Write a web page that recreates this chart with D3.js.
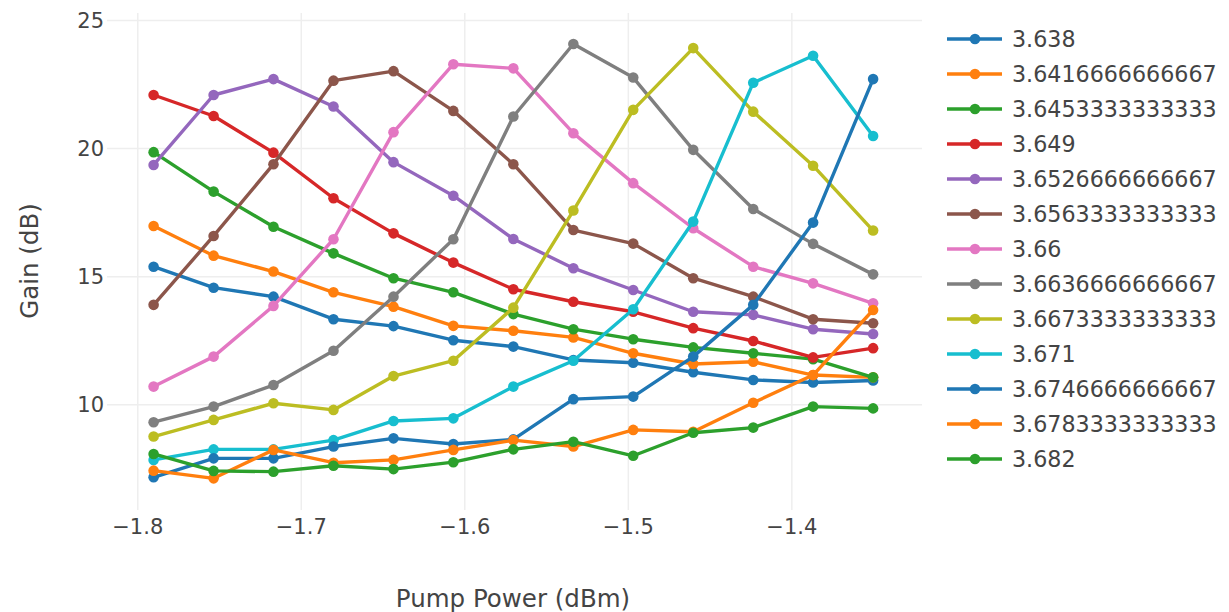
<!DOCTYPE html>
<html>
<head>
<meta charset="utf-8">
<script src="https://cdn.jsdelivr.net/npm/d3@7"></script>
<style>
  body { margin: 0; background: #fff; }
  svg { font-family: "DejaVu Sans", Verdana, sans-serif; }
  .grid line { stroke: #eee; stroke-width: 1.5; }
</style>
</head>
<body>
<div id="chart"></div>
<script>
// Data
const pumpPower = [-1.79, -1.7533, -1.7167, -1.68, -1.6433, -1.6067, -1.57,
  -1.5333, -1.4967, -1.46, -1.4233, -1.3867, -1.35];
const seriesNames = ["3.638", "3.6416666666667", "3.6453333333333", "3.649",
  "3.6526666666667", "3.6563333333333", "3.66", "3.6636666666667",
  "3.6673333333333", "3.671", "3.6746666666667", "3.6783333333333", "3.682"];
const gain638 = [15.37, 14.55, 14.2, 13.32, 13.05, 12.5, 12.25, 11.73, 11.62, 11.25, 10.95, 10.85, 10.93];
const gain6417 = [16.96, 15.8, 15.18, 14.37, 13.81, 13.06, 12.87, 12.61, 11.99, 11.57, 11.66, 11.14, 11.05];
const gain6453 = [19.84, 18.3, 16.93, 15.89, 14.92, 14.37, 13.52, 12.93, 12.54, 12.22, 11.99, 11.76, 11.05];
const gain649 = [22.07, 21.25, 19.82, 18.04, 16.67, 15.53, 14.49, 14.0, 13.61, 12.97, 12.47, 11.83, 12.19];
const gain6527 = [19.34, 22.07, 22.69, 21.62, 19.45, 18.14, 16.45, 15.31, 14.46, 13.61, 13.49, 12.93, 12.74];
const gain6563 = [13.88, 16.57, 19.37, 22.63, 23.0, 21.45, 19.37, 16.8, 16.27, 14.92, 14.2, 13.32, 13.16];
const gain66 = [10.69, 11.86, 13.84, 16.44, 20.62, 23.27, 23.11, 20.58, 18.63, 16.87, 15.37, 14.72, 13.94];
const gain6637 = [9.3, 9.91, 10.75, 12.09, 14.2, 16.44, 21.23, 24.06, 22.75, 19.93, 17.62, 16.26, 15.07];
const gain6673 = [8.74, 9.39, 10.04, 9.78, 11.1, 11.7, 13.77, 17.56, 21.49, 23.9, 21.42, 19.31, 16.78];
const gain671 = [7.83, 8.24, 8.24, 8.6, 9.35, 9.45, 10.69, 11.7, 13.71, 17.13, 22.55, 23.6, 20.47];
const gain6747 = [7.15, 7.89, 7.89, 8.35, 8.67, 8.45, 8.63, 10.2, 10.3, 11.86, 13.88, 17.09, 22.69];
const gain6783 = [7.41, 7.11, 8.22, 7.72, 7.83, 8.22, 8.6, 8.35, 9.0, 8.93, 10.06, 11.14, 13.68];
const gain682 = [8.06, 7.4, 7.37, 7.6, 7.47, 7.74, 8.24, 8.54, 7.99, 8.89, 9.09, 9.91, 9.84];
const gainSeries = [gain638, gain6417, gain6453, gain649, gain6527, gain6563, gain66,
  gain6637, gain6673, gain671, gain6747, gain6783, gain682];
const xTicks = [-1.8, -1.7, -1.6, -1.5, -1.4];
const yTicks = [10, 15, 20, 25];
const colors = ["#1f77b4", "#ff7f0e", "#2ca02c", "#d62728", "#9467bd", "#8c564b",
  "#e377c2", "#7f7f7f", "#bcbd22", "#17becf"];

const svgWidth = 1229, svgHeight = 612;
const margin = { top: 13, right: 307, bottom: 102, left: 107 };
const width = svgWidth - margin.left - margin.right;
const height = svgHeight - margin.top - margin.bottom;

const data = seriesNames.map((name, i) => ({
  name,
  color: colors[i % colors.length],
  values: pumpPower.map((x, j) => ({ x, y: gainSeries[i][j] })),
}));

// Scales
const xScale = d3.scaleLinear().domain([-1.8185, -1.3201]).range([0, width]);
const yScale = d3.scaleLinear().domain([5.874, 25.27]).range([height, 0]);

const svg = d3.select("#chart").append("svg")
  .attr("width", svgWidth).attr("height", svgHeight);
const g = svg.append("g").attr("transform", `translate(${margin.left},${margin.top})`);

// Grid + axes
const gX = g.append("g").attr("class", "grid")
  .attr("transform", `translate(0,${height})`)
  .call(d3.axisBottom(xScale).tickValues(xTicks).tickSize(-height)
    .tickFormat((d) => d3.format(".1f")(d).replace("-", "\u2212")));
gX.select(".domain").remove();
gX.selectAll("text").attr("dy", 0).attr("y", 24);

const gY = g.append("g").attr("class", "grid")
  .call(d3.axisLeft(yScale).tickValues(yTicks).tickSize(-width).tickFormat(d3.format("d")));
gY.select(".domain").remove();
gY.selectAll("text").attr("x", -3).attr("dy", "0.36em");

[gX, gY].forEach((a) =>
  a.attr("font-family", "DejaVu Sans, Verdana, sans-serif")
    .attr("font-size", 21)
    .selectAll("text").attr("fill", "#444"));

// Lines
const line = d3.line().x((d) => xScale(d.x)).y((d) => yScale(d.y));
const gLines = g.append("g");
gLines.selectAll(".trace")
  .data(data)
  .join("g")
  .attr("class", "trace")
  .each(function (d) {
    const t = d3.select(this);
    t.append("path")
      .attr("d", line(d.values))
      .attr("fill", "none")
      .attr("stroke", d.color)
      .attr("stroke-width", 3.4)
      .attr("stroke-linejoin", "round");
    t.selectAll("circle")
      .data(d.values)
      .join("circle")
      .attr("cx", (p) => xScale(p.x))
      .attr("cy", (p) => yScale(p.y))
      .attr("r", 5.3)
      .attr("fill", d.color);
  });

// Axis titles
svg.append("text")
  .attr("x", 513).attr("y", 607)
  .attr("text-anchor", "middle")
  .attr("fill", "#444").attr("font-size", 24.5)
  .text("Pump Power (dBm)");
svg.append("text")
  .attr("transform", "translate(38,261) rotate(-90)")
  .attr("text-anchor", "middle")
  .attr("fill", "#444").attr("font-size", 24.5)
  .text("Gain (dB)");

// Legend
const legend = svg.append("g").attr("transform", "translate(947,39)");
const item = legend.selectAll(".legend-item")
  .data(data)
  .join("g")
  .attr("class", "legend-item")
  .attr("transform", (d, i) => `translate(0,${i * 35})`);
item.append("line")
  .attr("x1", 0).attr("x2", 55)
  .attr("stroke", (d) => d.color).attr("stroke-width", 3.4);
item.append("circle").attr("cx", 28).attr("r", 5.3).attr("fill", (d) => d.color);
item.append("text")
  .attr("x", 65).attr("dy", "0.36em")
  .attr("fill", "#444").attr("font-size", 22.2)
  .text((d) => d.name);
</script>
</body>
</html>
